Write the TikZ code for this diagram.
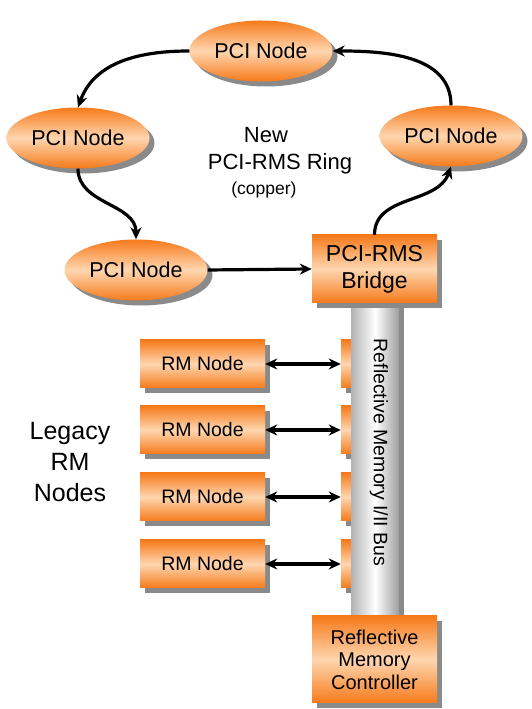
\documentclass[tikz,border=0pt]{standalone}
\usepackage{fontspec}
\setmainfont{Liberation Sans}
\usetikzlibrary{shapes.geometric,shadows,arrows.meta}

\definecolor{nodeorange}{RGB}{246,122,26}
\definecolor{nodepeach}{RGB}{255,214,176}
\definecolor{shadowgray}{RGB}{138,138,138}

\tikzset{
  softshadow/.style={general shadow={shadow xshift=5pt,shadow yshift=-5pt,fill=shadowgray}},
  orangefill/.style={top color=nodeorange,bottom color=nodeorange,middle color=nodepeach},
  pcinode/.style={ellipse,minimum width=143pt,minimum height=61pt,inner sep=0pt,
    orangefill,softshadow,font=\fontsize{21.5}{25}\selectfont},
  orangebox/.style={rectangle,inner sep=0pt,orangefill,softshadow},
  rmnode/.style={orangebox,minimum width=125pt,minimum height=48pt,font=\fontsize{19.5}{23}\selectfont},
  stubbox/.style={orangebox,minimum width=50pt,minimum height=48pt},
  busbar/.style={rectangle,inner sep=0pt,minimum width=48pt,minimum height=330pt,
    left color=black!30,right color=black!38,middle color=white,softshadow},
  bigbox/.style={orangebox,minimum width=125pt,align=center},
  ringarrow/.style={line width=3.2pt,-{Stealth[length=12pt,width=11pt]}},
  busarrow/.style={line width=3.2pt,{Stealth[length=12pt,width=11pt]}-{Stealth[length=12pt,width=11pt]}},
  label/.style={inner sep=0pt}
}

\begin{document}
\begin{tikzpicture}[x=1pt,y=1pt]
\useasboundingbox (0,0) rectangle (532,709);

% PCI ring nodes
\node[pcinode] (top) at (261,658) {PCI Node};
\node[pcinode] (lft) at (78,571) {PCI Node};
\node[pcinode] (rgt) at (451,573) {PCI Node};
\node[pcinode] (bot) at (136,439) {PCI Node};

% ring caption
\node[label,anchor=base,font=\fontsize{22}{26}\selectfont] (ringnew) at (266,566) {New};
\node[label,anchor=base,font=\fontsize{22}{26}\selectfont] (ringname) at (280,539) {PCI-RMS Ring};
\node[label,anchor=base,font=\fontsize{17.5}{21}\selectfont] (ringcu) at (264,514) {(copper)};

% legacy reflective memory nodes and their bus taps
\foreach \i/\y in {1/345,2/279,3/212,4/145}{
  \node[rmnode] (rm\i) at (202.5,\y) {RM Node};
  \node[stubbox] (st\i) at (366,\y) {};
}

% reflective memory bus
\node[busbar] (bus) at (375,252) {};
\node[label,rotate=-90,font=\fontsize{19.5}{23}\selectfont] (buslabel) at (379,256.5) {Reflective Memory I/II Bus};

% bridge and controller
\node[bigbox,minimum height=68pt,font=\fontsize{23}{27}\selectfont] (bridge) at (374.5,440) {PCI-RMS\\Bridge};
\node[bigbox,minimum height=87pt,font=\fontsize{20}{22.5}\selectfont] (ctrl) at (374.5,49.5) {Reflective\\Memory\\Controller};

\node[label,align=center,font=\fontsize{25}{31}\selectfont] (legacy) at (70,247) {Legacy\\RM\\Nodes};

% ring connections
\draw[ringarrow] (top.west) to[out=180,in=70] (lft.north);
\draw[ringarrow] (lft.south) to[out=-90,in=90] (bot.north);
\draw[ringarrow] (bot.east) -- (bridge.west);
\draw[ringarrow] (bridge.north) to[out=90,in=-110] (rgt.south);
\draw[ringarrow] (rgt.north) to[out=90,in=0] (top.east);

% bus links
\foreach \i in {1,...,4}{
  \draw[busarrow] (rm\i.east) -- (st\i.west);
}
\end{tikzpicture}
\end{document}
